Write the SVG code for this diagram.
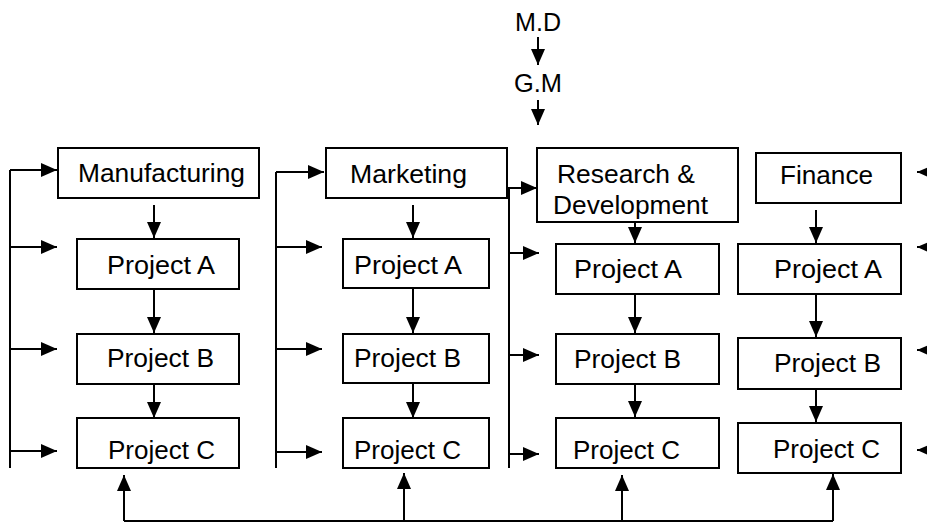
<svg xmlns="http://www.w3.org/2000/svg" width="927" height="523" viewBox="0 0 927 523">
<defs>
<marker id="ah" markerUnits="userSpaceOnUse" markerWidth="17" markerHeight="15" refX="16" refY="7" orient="auto" overflow="visible">
<path d="M0,0 L16,7 L0,14 z" fill="#000"/>
</marker>
<style>
.b{fill:#fff;stroke:#000;stroke-width:2}
.t{font-family:"Liberation Sans",Arial,sans-serif;font-size:25px;fill:#000}
.c line{stroke:#000;stroke-width:2;fill:none}
.a{marker-end:url(#ah)}
</style>
</defs>
<rect width="927" height="523" fill="#fff"/>
<g id="connectors" class="c">
<line class="a" x1="538" y1="37" x2="538" y2="65"/>
<line class="a" x1="538" y1="100" x2="538" y2="125"/>
<line x1="10" y1="170" x2="10" y2="468"/>
<line class="a" x1="10" y1="170" x2="57" y2="170"/>
<line class="a" x1="10" y1="247" x2="57" y2="247"/>
<line class="a" x1="10" y1="349" x2="57" y2="349"/>
<line class="a" x1="10" y1="451" x2="57" y2="451"/>
<line x1="276" y1="172" x2="276" y2="468"/>
<line class="a" x1="276" y1="172" x2="324" y2="172"/>
<line class="a" x1="276" y1="247" x2="322" y2="247"/>
<line class="a" x1="276" y1="349" x2="322" y2="349"/>
<line class="a" x1="276" y1="452" x2="322" y2="452"/>
<line x1="509" y1="188" x2="509" y2="468"/>
<line x1="507" y1="188" x2="509" y2="188"/>
<line class="a" x1="509" y1="188" x2="537" y2="188"/>
<line class="a" x1="509" y1="253" x2="539" y2="253"/>
<line class="a" x1="509" y1="355" x2="539" y2="355"/>
<line class="a" x1="509" y1="454" x2="539" y2="454"/>
<line class="a" x1="935" y1="172" x2="917" y2="172"/>
<line class="a" x1="935" y1="247" x2="917" y2="247"/>
<line class="a" x1="935" y1="350" x2="917" y2="350"/>
<line class="a" x1="935" y1="450" x2="917" y2="450"/>
<line class="a" x1="154" y1="205" x2="154" y2="238"/>
<line class="a" x1="154" y1="289" x2="154" y2="333"/>
<line class="a" x1="154" y1="384" x2="154" y2="418"/>
<line class="a" x1="413" y1="205" x2="413" y2="238"/>
<line class="a" x1="413" y1="288" x2="413" y2="333"/>
<line class="a" x1="413" y1="383" x2="413" y2="418"/>
<line class="a" x1="635" y1="222" x2="635" y2="243"/>
<line class="a" x1="635" y1="294" x2="635" y2="333"/>
<line class="a" x1="635" y1="384" x2="635" y2="417"/>
<line class="a" x1="816" y1="210" x2="816" y2="243"/>
<line class="a" x1="816" y1="294" x2="816" y2="337"/>
<line class="a" x1="816" y1="389" x2="816" y2="422"/>
<line x1="124" y1="521" x2="833" y2="521"/>
<line class="a" x1="124" y1="521" x2="124" y2="475"/>
<line class="a" x1="404" y1="521" x2="404" y2="473"/>
<line class="a" x1="622" y1="521" x2="622" y2="475"/>
<line class="a" x1="833" y1="521" x2="833" y2="474"/>
</g>
<g id="md"><text class="t" x="515" y="31" textLength="46" lengthAdjust="spacingAndGlyphs">M.D</text></g>
<g id="gm"><text class="t" x="514" y="92" textLength="48" lengthAdjust="spacingAndGlyphs">G.M</text></g>
<g id="manufacturing"><rect class="b" x="58" y="148" width="201" height="50"/><text class="t" x="78" y="182" textLength="167" lengthAdjust="spacingAndGlyphs">Manufacturing</text></g>
<g id="mfg-a"><rect class="b" x="77" y="239" width="162" height="50"/><text class="t" x="107" y="274" textLength="108" lengthAdjust="spacingAndGlyphs">Project A</text></g>
<g id="mfg-b"><rect class="b" x="77" y="334" width="162" height="50"/><text class="t" x="107" y="367" textLength="107" lengthAdjust="spacingAndGlyphs">Project B</text></g>
<g id="mfg-c"><rect class="b" x="77" y="418" width="162" height="50"/><text class="t" x="108" y="459" textLength="107" lengthAdjust="spacingAndGlyphs">Project C</text></g>
<g id="marketing"><rect class="b" x="326" y="148" width="181" height="50"/><text class="t" x="350" y="183" textLength="117" lengthAdjust="spacingAndGlyphs">Marketing</text></g>
<g id="mkt-a"><rect class="b" x="343" y="239" width="146" height="49"/><text class="t" x="354" y="274" textLength="108" lengthAdjust="spacingAndGlyphs">Project A</text></g>
<g id="mkt-b"><rect class="b" x="343" y="334" width="146" height="49"/><text class="t" x="354" y="367" textLength="107" lengthAdjust="spacingAndGlyphs">Project B</text></g>
<g id="mkt-c"><rect class="b" x="343" y="418" width="146" height="50"/><text class="t" x="354" y="459" textLength="107" lengthAdjust="spacingAndGlyphs">Project C</text></g>
<g id="rnd"><rect class="b" x="537" y="148" width="201" height="74"/><text class="t" x="557" y="183" textLength="138" lengthAdjust="spacingAndGlyphs">Research &amp;</text><text class="t" x="553" y="214" textLength="155" lengthAdjust="spacingAndGlyphs">Development</text></g>
<g id="rnd-a"><rect class="b" x="556" y="244" width="163" height="50"/><text class="t" x="574" y="278" textLength="108" lengthAdjust="spacingAndGlyphs">Project A</text></g>
<g id="rnd-b"><rect class="b" x="556" y="334" width="163" height="50"/><text class="t" x="574" y="368" textLength="107" lengthAdjust="spacingAndGlyphs">Project B</text></g>
<g id="rnd-c"><rect class="b" x="556" y="418" width="163" height="50"/><text class="t" x="573" y="459" textLength="107" lengthAdjust="spacingAndGlyphs">Project C</text></g>
<g id="finance"><rect class="b" x="756" y="153" width="145" height="50"/><text class="t" x="780" y="184" textLength="93" lengthAdjust="spacingAndGlyphs">Finance</text></g>
<g id="fin-a"><rect class="b" x="738" y="244" width="163" height="50"/><text class="t" x="774" y="278" textLength="108" lengthAdjust="spacingAndGlyphs">Project A</text></g>
<g id="fin-b"><rect class="b" x="738" y="338" width="163" height="51"/><text class="t" x="774" y="372" textLength="107" lengthAdjust="spacingAndGlyphs">Project B</text></g>
<g id="fin-c"><rect class="b" x="738" y="423" width="163" height="50"/><text class="t" x="773" y="458" textLength="107" lengthAdjust="spacingAndGlyphs">Project C</text></g>
</svg>
